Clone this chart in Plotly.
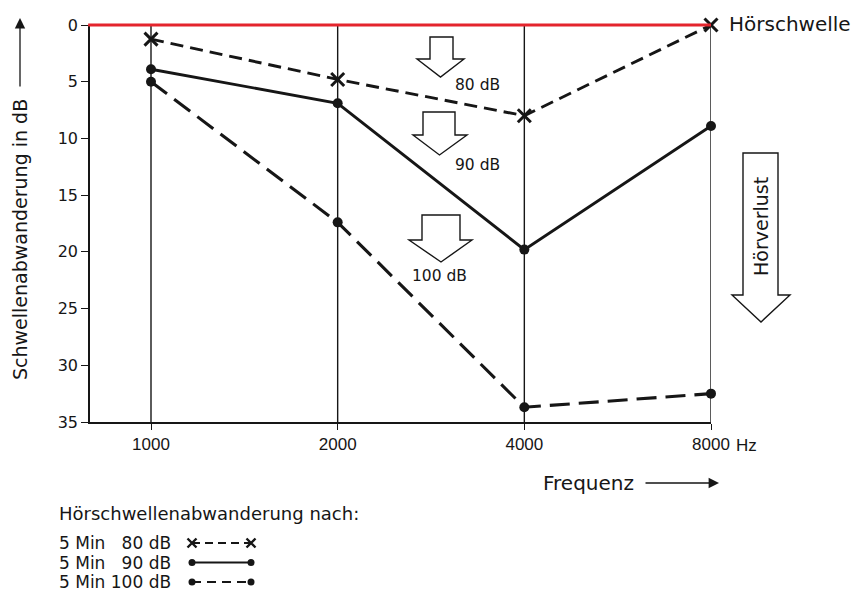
import math
import plotly.graph_objects as go

# Audiogram: temporary threshold shift after 5 minutes of noise exposure
freqs = [1000, 2000, 4000, 8000]
freq_labels = ["1000", "2000", "4000", "8000"]
y_ticks = [0, 5, 10, 15, 20, 25, 30, 35]

shift_80db = [1.25, 4.8, 8.0, 0.0]
shift_90db = [3.9, 6.9, 19.8, 8.9]
shift_100db = [5.0, 17.4, 33.7, 32.5]

legend_names = ["5 Min \u200780 dB", "5 Min \u200790 dB", "5 Min 100 dB"]
level_labels = ["80 dB", "90 dB", "100 dB"]

W, H = 857, 595
PL, PR, PT, PB = 90, 711, 25, 590   # outer plot region in pixels
AXIS_BOTTOM = 422                   # pixel row of the 35 dB baseline
OCTAVE_PX = (711 - 151) / 3.0


def paper(x, y):
    """Pixel position -> paper coordinates of the plot region."""
    return (x - PL) / (PR - PL), (PB - y) / (PB - PT)


INK = "#161616"
FONT = "DejaVu Sans, Liberation Sans, Arial, sans-serif"
NARROW = "Liberation Sans Narrow, Liberation Sans, Arial, sans-serif"

fig = go.Figure()

# vertical frequency lines
vx, vy = [], []
for f in freqs:
    vx += [f, f, None]
    vy += [0, 35, None]
fig.add_trace(go.Scatter(x=vx, y=vy, mode="lines", line=dict(color=INK, width=1.4),
                         hoverinfo="skip", showlegend=False, cliponaxis=False))

series = [
    (shift_80db, dict(color=INK, width=2.9, dash="13px,7px"),
     dict(symbol="x-thin-open", size=13, line=dict(width=3, color=INK), color=INK)),
    (shift_90db, dict(color=INK, width=2.9),
     dict(symbol="circle", size=10, color=INK)),
    (shift_100db, dict(color=INK, width=3.1, dash="20px,9px"),
     dict(symbol="circle", size=10, color=INK)),
]
for (vals, ln, mk), name in zip(series, legend_names):
    fig.add_trace(go.Scatter(x=freqs, y=vals, mode="lines+markers", line=ln, marker=mk,
                             name=name, showlegend=False, cliponaxis=False))

# legend samples drawn on an auxiliary axis below the chart
for row, ((vals, ln, mk), name) in enumerate(zip(series, legend_names)):
    small = dict(mk)
    small["size"] = 7 if mk["symbol"] == "circle" else 9
    if "line" in small:
        small["line"] = dict(width=2.4, color=INK)
    ln2 = dict(ln)
    ln2["width"] = 2.2
    if "dash" in ln2:
        ln2["dash"] = "8px,5px" if row == 0 else "9px,6px"
    fig.add_trace(go.Scatter(x=[0, 1], y=[row, row], mode="lines+markers", line=ln2,
                             marker=small, xaxis="x2", yaxis="y2", showlegend=False,
                             hoverinfo="skip", cliponaxis=False))

log_left = math.log10(1000) - (151 - PL) / OCTAVE_PX * math.log10(2)
log_right = math.log10(8000)

# auxiliary axis: legend sample spans pixel 192..251, rows at 543 / 563 / 582
lx0, lx1 = 192, 251
lrow0, lrow_step = 543, 19.5
leg_dom_top = 0.15
leg_top_px = PB - leg_dom_top * (PB - PT)

fig.update_layout(
    width=W, height=H,
    margin=dict(l=PL, r=W - PR, t=PT, b=H - PB, pad=0, autoexpand=False),
    paper_bgcolor="white", plot_bgcolor="white",
    showlegend=False,
    font=dict(family=FONT, color=INK),
    xaxis=dict(type="log", range=[log_left, log_right], tickvals=freqs, ticktext=freq_labels,
               showgrid=False, zeroline=False, showline=True, linecolor=INK, linewidth=1.5,
               ticks="outside", ticklen=6, tickwidth=1.3, tickcolor=INK, automargin=False,
               tickfont=dict(family=NARROW, size=17, color=INK), anchor="y"),
    yaxis=dict(range=[35, 0], tickvals=y_ticks, showgrid=False, zeroline=False,
               showline=True, linecolor=INK, linewidth=1.5, ticks="outside", ticklen=7,
               tickwidth=1.3, tickcolor=INK, tickfont=dict(size=16, color=INK),
               automargin=False,
               domain=[(PB - AXIS_BOTTOM) / (PB - PT), 1], anchor="x"),
    xaxis2=dict(range=[(PL - lx0) / (lx1 - lx0), (PR - lx0) / (lx1 - lx0)], visible=False,
                automargin=False, anchor="y2", domain=[0, 1]),
    yaxis2=dict(range=[(PB - lrow0) / lrow_step, (leg_top_px - lrow0) / lrow_step],
                visible=False, automargin=False, anchor="x2", domain=[0, leg_dom_top]),
)

shapes = []
# hearing threshold (red line at 0 dB, top edge of the chart)
shapes.append(dict(type="line", xref="paper", yref="paper", x0=-0.003, x1=1, y0=1, y1=1,
                   line=dict(color="#e4252d", width=2.8), layer="above"))


def block_arrow(xl, xr, yt, ys, hl, hr, tx, ty):
    pts = [(xl, yt), (xr, yt), (xr, ys), (hr, ys), (tx, ty), (hl, ys), (xl, ys)]
    path = ""
    for i, (x, y) in enumerate(pts):
        px_, py_ = paper(x, y)
        path += ("M" if i == 0 else "L") + f"{px_:.5f},{py_:.5f} "
    path += "Z"
    return dict(type="path", xref="paper", yref="paper", path=path,
                line=dict(color=INK, width=1.4), fillcolor="white", layer="above")


shapes.append(block_arrow(430, 453, 37, 59, 417, 464, 440.5, 77))
shapes.append(block_arrow(423, 455, 112, 135, 413, 467, 439.5, 155))
shapes.append(block_arrow(422, 460, 215, 240, 409, 472, 441, 262))
shapes.append(block_arrow(743, 778, 153, 295, 732, 790, 761, 322))
fig.update_layout(shapes=shapes)

ann = []


def text(x, y, s, size, xanchor="left", angle=0, family=FONT):
    px_, py_ = paper(x, y)
    ann.append(dict(x=px_, y=py_, xref="paper", yref="paper", text=s, showarrow=False,
                    xanchor=xanchor, yanchor="middle", textangle=angle,
                    font=dict(size=size, family=family, color=INK)))


text(453, 85, level_labels[0], 15.5)
text(453, 165, level_labels[1], 15.5)
text(439, 276, level_labels[2], 15.5, xanchor="center")
text(727, 24, "Hörschwelle", 20)
text(761, 227, "Hörverlust", 19, xanchor="center", angle=-90)
text(734, 445, "Hz", 17, family=NARROW)
text(541, 483, "Frequenz", 20)
text(20, 240, "Schwellenabwanderung in dB", 19, xanchor="center", angle=-90)
text(57, 513, "Hörschwellenabwanderung nach:", 18)
for row, name in enumerate(legend_names):
    text(57, lrow0 + row * lrow_step, name, 17)

# axis-direction arrows
fx, fy = paper(719, 483)
ann.append(dict(x=fx, y=fy, xref="paper", yref="paper", ax=-75, ay=0, text="",
                showarrow=True, arrowhead=2, arrowsize=1.6, arrowwidth=1.3, arrowcolor=INK))
ax_, ay_ = paper(20, 18)
ann.append(dict(x=ax_, y=ay_, xref="paper", yref="paper", ax=0, ay=70, text="",
                showarrow=True, arrowhead=2, arrowsize=1.6, arrowwidth=1.3, arrowcolor=INK))
fig.update_layout(annotations=ann)

fig.write_html("out.html")
